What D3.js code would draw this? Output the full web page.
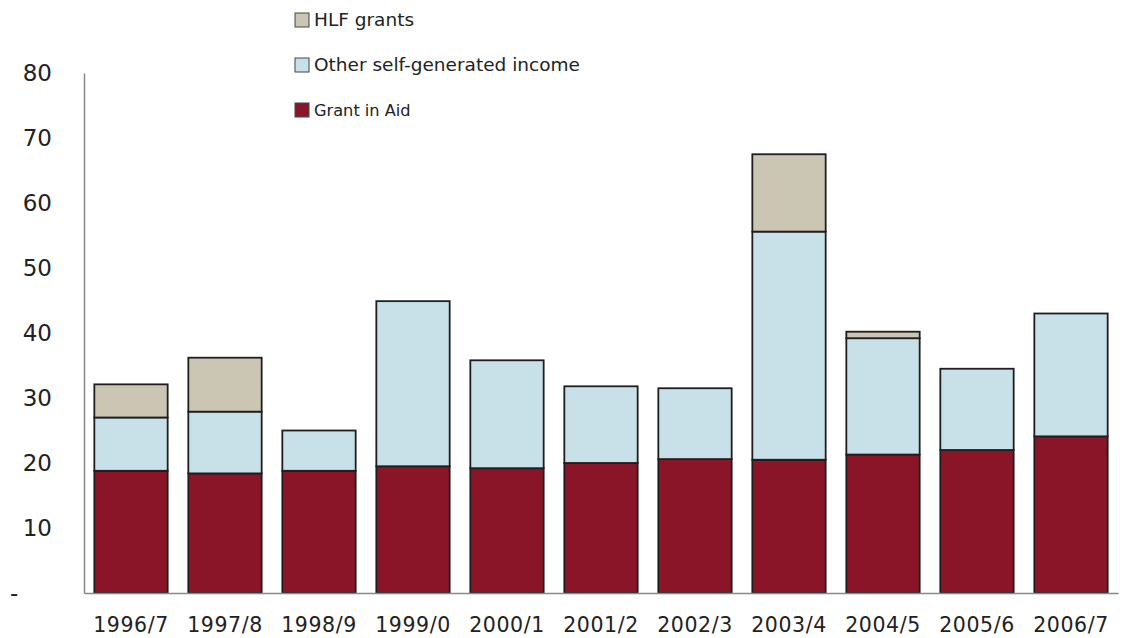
<!DOCTYPE html>
<html><head><meta charset="utf-8">
<script src="https://cdn.jsdelivr.net/npm/d3@7"></script>
<style>body{margin:0;background:#fff;}svg{display:block;}text{font-family:"DejaVu Sans",sans-serif;fill:#222;}</style>
</head><body><svg id="c" width="1128" height="638"></svg>
<script>
const categories = ["1996/7","1997/8","1998/9","1999/0","2000/1","2001/2","2002/3","2003/4","2004/5","2005/6","2006/7"];
const grantInAid = [18.8,18.4,18.8,19.5,19.2,20.0,20.6,20.5,21.3,22.0,24.1];
const otherIncome = [8.2,9.5,6.2,25.4,16.6,11.8,10.9,35.1,17.9,12.5,18.9];
const hlfGrants = [5.1,8.3,0,0,0,0,0,11.9,1.0,0,0];
const yTicks = [0,10,20,30,40,50,60,70,80];
const seriesNames = ["Grant in Aid","Other self-generated income","HLF grants"];
const seriesColors = ["#8a1428","#c8e1e8","#cbc5b4"];

const svg = d3.select("#c");
const x = d3.scaleBand().domain(categories).range([84,1118]).paddingInner(0.22).paddingOuter(0.11);
const y = d3.scaleLinear().domain([0,80]).range([593,73]);

const rows = categories.map((c,i)=>({cat:c, g:grantInAid[i], o:otherIncome[i], h:hlfGrants[i]}));
const stack = d3.stack().keys(["g","o","h"])(rows);

stack.forEach((layer,li)=>{
  svg.append("g").selectAll("rect").data(layer.filter(d=>d[1]-d[0]>0)).join("rect")
    .attr("x",d=>x(d.data.cat)).attr("width",x.bandwidth())
    .attr("y",d=>y(d[1])).attr("height",d=>y(d[0])-y(d[1]))
    .attr("fill",seriesColors[li]).attr("stroke","#1e1e1e").attr("stroke-width",1.8);
});

// axes
const yAxis = svg.append("g").attr("transform","translate(84,0)")
  .call(d3.axisLeft(y).tickValues(yTicks).tickSize(0).tickPadding(32).tickFormat(d=>d===0?"-":d));
yAxis.select(".domain").attr("stroke","#888").attr("stroke-width",1.5);
yAxis.selectAll("text").attr("font-size",23).attr("font-family","DejaVu Sans").attr("fill","#222");
yAxis.selectAll(".tick").filter(d=>d===0).select("text").attr("text-anchor","start").attr("x",-74);

const xAxis = svg.append("g").attr("transform","translate(0,593)")
  .call(d3.axisBottom(x).tickSize(0).tickPadding(24));
xAxis.select(".domain").attr("stroke","#888").attr("stroke-width",1.5);
xAxis.selectAll("text").attr("font-size",20.5).attr("letter-spacing",0.6).attr("font-family","DejaVu Sans").attr("fill","#222");

// legend
const legendItems = [2,1,0];
const legendSizes = [18.5,18.5,16.2];
const lg = svg.append("g");
legendItems.forEach((si,k)=>{
  const ly = 20 + k*45;
  lg.append("rect").attr("x",295).attr("y",ly-7).attr("width",14).attr("height",14)
    .attr("fill",seriesColors[si]).attr("stroke","#444").attr("stroke-width",1);
  lg.append("text").attr("x",314).attr("y",ly).attr("dy","0.35em").attr("font-size",legendSizes[k])
    .text(seriesNames[si]);
});
</script></body></html>
